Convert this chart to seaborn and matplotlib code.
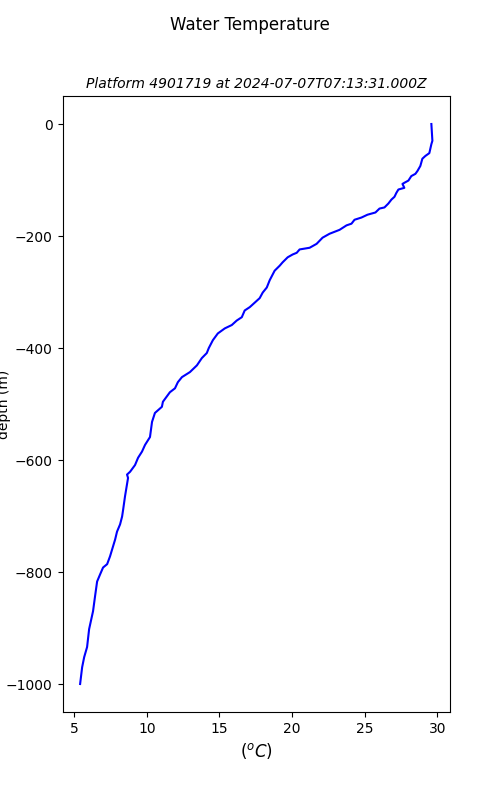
import matplotlib
matplotlib.use("Agg")
import matplotlib.pyplot as plt
import numpy as np
import pandas as pd
import seaborn as sns

platform = "4901719"
timestamp = "2024-07-07T07:13:31.000Z"

# temperature (deg C) and depth (m)
temperature = [
    29.59, 29.66, 29.59, 29.45, 29.18, 28.97, 28.83, 28.63, 28.49, 28.21,
    28.01, 27.73, 27.60, 27.73, 27.32, 27.18, 27.05, 26.84, 26.63, 26.36,
    26.02, 25.74, 25.19, 24.78, 24.30, 24.09, 23.75, 23.27, 22.58, 22.10,
    21.69, 21.21, 20.52, 20.32, 20.04, 19.70, 19.35, 19.15, 18.80, 18.46,
    18.26, 17.98, 17.77, 17.43, 17.09, 16.74, 16.54, 16.19, 15.85, 15.37,
    14.89, 14.55, 14.27, 14.13, 13.79, 13.45, 12.97, 12.42, 12.14, 11.94,
    11.59, 11.11, 11.04, 10.56, 10.36, 10.22, 9.88, 9.67, 9.40, 9.19,
    8.85, 8.64, 8.71, 8.50, 8.37, 8.30, 8.16, 7.95, 7.82, 7.61,
    7.47, 7.27, 6.99, 6.79, 6.58, 6.44, 6.30, 6.03, 5.89, 5.69,
    5.55, 5.41,
]
depth = [
    0, -30, -36, -52, -57, -62, -75, -84, -89, -93,
    -101, -105, -107, -114, -117, -123, -130, -135, -142, -149,
    -151, -158, -162, -167, -171, -178, -181, -189, -196, -203,
    -214, -221, -224, -230, -233, -238, -247, -253, -262, -279,
    -292, -301, -311, -319, -327, -333, -345, -351, -359, -365,
    -374, -386, -400, -409, -418, -431, -443, -452, -461, -472,
    -479, -496, -505, -516, -532, -559, -573, -585, -596, -609,
    -621, -626, -632, -665, -689, -701, -715, -728, -742, -760,
    -772, -786, -792, -804, -817, -843, -870, -902, -934, -952,
    -970, -1000,
]

df = pd.DataFrame({"temp": temperature, "depth": depth})

fig, ax = plt.subplots(figsize=(5, 8), dpi=100)
sns.lineplot(data=df, x="temp", y="depth", sort=False, estimator=None,
             color="blue", lw=1.5, ax=ax)
ax.set_xlabel("($^oC$)", fontsize=12)
ax.set_ylabel("depth (m)")
ax.yaxis.set_label_coords(-0.132, 0.5)
ax.set_title(f"Platform {platform} at {timestamp}", fontsize=10, style="italic")
fig.suptitle("Water Temperature", fontsize=12)
fig.savefig("out.png", dpi=100)
plt.close(fig)
